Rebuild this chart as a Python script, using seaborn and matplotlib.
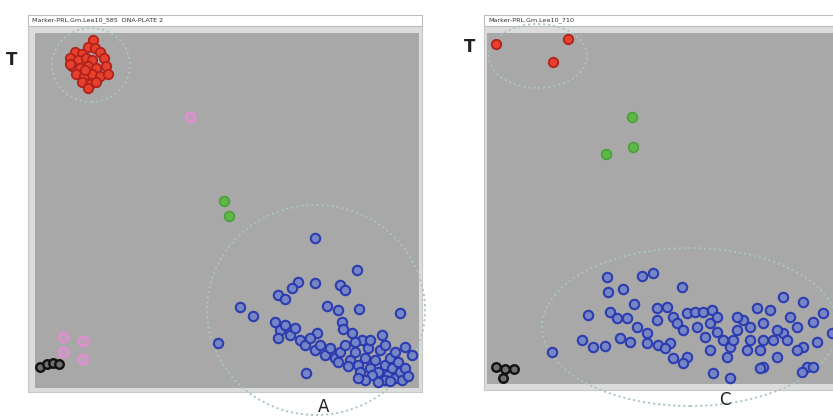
import matplotlib
matplotlib.use("Agg")
import matplotlib.pyplot as plt
from matplotlib.patches import Ellipse, Rectangle
import pandas as pd
import seaborn as sns

# ---------------- cluster data (allele signal units) ----------------
# Plate 2, marker 585
a_red_x = [0.58, 0.53, 0.60, 0.40, 0.47, 0.65, 0.35, 0.43, 0.51, 0.57, 0.69, 0.37, 0.45, 0.53,
           0.61, 0.71, 0.41, 0.49, 0.57, 0.65, 0.47, 0.55, 0.61, 0.53, 0.35, 0.73, 0.50]
a_red_y = [3.48, 3.41, 3.40, 3.36, 3.34, 3.36, 3.30, 3.28, 3.30, 3.28, 3.30, 3.22, 3.20, 3.22,
           3.20, 3.22, 3.14, 3.12, 3.14, 3.12, 3.06, 3.04, 3.06, 3.00, 3.24, 3.14, 3.18]
a_pink_x = [1.55, 0.28, 0.48, 0.28, 0.48]
a_pink_y = [2.71, 0.51, 0.47, 0.36, 0.29]
a_green_x = [1.89, 1.94]
a_green_y = [1.87, 1.72]
a_ntc_x = [0.05, 0.12, 0.18, 0.24]
a_ntc_y = [0.21, 0.24, 0.25, 0.24]
a_blue_x = [2.80, 3.22, 2.63, 2.57, 2.80, 3.05, 3.10, 2.43, 2.50, 2.05, 2.18, 2.92, 3.03, 3.24,
            3.65, 1.83, 2.82, 3.07, 3.08, 3.17, 3.47, 3.70, 3.77, 2.71,
            2.40, 2.45, 2.50, 2.43, 2.55, 2.60, 2.65, 2.70, 2.75, 2.80, 2.85, 2.90, 2.95, 3.00,
            3.05, 3.10, 3.15, 3.20, 3.23, 3.27, 3.30, 3.33, 3.35, 3.40, 3.43, 3.45, 3.50, 3.53,
            3.55, 3.57, 3.60, 3.63, 3.65, 3.67, 3.70, 3.73, 3.50, 3.37, 3.25, 3.13, 3.03, 3.60,
            3.50, 3.35, 3.20, 3.30, 3.43, 3.55, 3.23]
a_blue_y = [1.50, 1.18, 1.06, 1.00, 1.05, 1.03, 0.98, 0.93, 0.89, 0.81, 0.72, 0.82, 0.78, 0.79,
            0.75, 0.45, 0.55, 0.66, 0.59, 0.55, 0.53, 0.41, 0.33, 0.15,
            0.66, 0.58, 0.63, 0.50, 0.53, 0.60, 0.48, 0.43, 0.50, 0.38, 0.43, 0.33, 0.40, 0.30,
            0.36, 0.43, 0.28, 0.36, 0.23, 0.48, 0.30, 0.40, 0.20, 0.28, 0.16, 0.38, 0.23, 0.13,
            0.30, 0.20, 0.10, 0.26, 0.16, 0.08, 0.20, 0.12, 0.08, 0.13, 0.16, 0.22, 0.26, 0.36,
            0.43, 0.48, 0.46, 0.08, 0.06, 0.07, 0.10]

# Marker 710
c_red_x = [0.09, 0.81, 0.66]
c_red_y = [3.40, 3.45, 3.22]
c_green_x = [1.45, 1.46, 1.19]
c_green_y = [2.67, 2.37, 2.30]
c_ntc_x = [0.09, 0.18, 0.27, 0.16]
c_ntc_y = [0.17, 0.15, 0.15, 0.06]
c_blue_x = [1.20, 1.55, 1.66, 1.21, 1.36, 1.95, 1.47, 1.01, 1.23, 1.30, 1.40, 1.70, 1.80, 0.95,
            1.06, 1.18, 0.65, 1.33, 1.43, 1.50, 1.60, 1.70, 1.86, 1.90, 1.96, 2.00, 2.08, 2.16,
            2.25, 2.10, 2.18, 2.23, 2.30, 2.36, 1.83, 1.86, 2.00, 1.96, 2.26, 2.43, 2.40, 2.43,
            2.50, 2.56, 2.63, 2.70, 2.76, 2.83, 2.73, 2.76, 2.86, 2.90, 2.96, 2.96, 3.03, 3.10,
            3.16, 3.16, 3.20, 3.26, 3.26, 3.36, 3.30, 3.45, 2.50, 2.60, 2.46, 2.30, 2.90, 3.00,
            2.63, 2.23, 2.76, 3.10, 1.60, 1.71, 1.78, 2.73, 3.15]
c_blue_y = [1.07, 1.08, 1.11, 0.92, 0.95, 0.97, 0.80, 0.69, 0.72, 0.66, 0.66, 0.76, 0.77, 0.44,
            0.37, 0.38, 0.32, 0.46, 0.42, 0.57, 0.51, 0.64, 0.67, 0.61, 0.54, 0.71, 0.72, 0.72,
            0.74, 0.57, 0.47, 0.61, 0.52, 0.44, 0.41, 0.26, 0.27, 0.21, 0.11, 0.06, 0.27, 0.37,
            0.54, 0.64, 0.44, 0.76, 0.61, 0.74, 0.34, 0.17, 0.44, 0.27, 0.87, 0.51, 0.67, 0.57,
            0.82, 0.37, 0.17, 0.17, 0.62, 0.71, 0.42, 0.51, 0.67, 0.34, 0.44, 0.67, 0.54, 0.44,
            0.57, 0.34, 0.44, 0.34, 0.41, 0.39, 0.36, 0.16, 0.12]

titles = ["Marker-PRL.Gm.Lee10_585  DNA-PLATE 2", "Marker-PRL.Gm.Lee10_710"]
axis_labels = ["A", "C"]
allele_label = "T"

# ---------------- styles ----------------
STYLE = {
    "red":   dict(color="#e8402e", edgecolor="#b0221a", s=46, linewidth=1.3),
    "pink":  dict(color="#b9a2b5", edgecolor="#ea8ad8", s=46, linewidth=1.5),
    "green": dict(color="#5fb845", edgecolor="#44a033", s=50, linewidth=1.1),
    "ntc":   dict(color="#707070", edgecolor="#111111", s=38, linewidth=1.7),
    "blue":  dict(color="#7484c6", edgecolor="#2838b0", s=46, linewidth=1.5, alpha=0.95),
}
RING = "#a9c6c2"
PLOT_BG = "#a8a8a8"
FRAME_BG = "#dcdcdc"

W, H = 833, 417
fig = plt.figure(figsize=(W / 100, H / 100), dpi=100)
fig.patch.set_facecolor("white")


def fx(px):
    return px / W


def fy(py):
    return 1 - py / H


def box(x0, y0, x1, y1, **kw):
    fig.add_artist(Rectangle((fx(x0), fy(y1)), fx(x1) - fx(x0), (y1 - y0) / H,
                             transform=fig.transFigure, **kw))


def panel(px0, px1, py0, py1, xmax, ymax):
    ax = fig.add_axes([fx(px0), fy(py1), (px1 - px0) / W, (py1 - py0) / H])
    ax.set_facecolor(PLOT_BG)
    ax.set_xlim(0, xmax)
    ax.set_ylim(0, ymax)
    for s in ax.spines.values():
        s.set_visible(False)
    return ax


def draw(ax, xs, ys, key):
    df = pd.DataFrame({"x": xs, "y": ys})
    sns.scatterplot(data=df, x="x", y="y", ax=ax, zorder=3, legend=False, **STYLE[key])


def ring(ax, cx, cy, w, h):
    ax.add_patch(Ellipse((cx, cy), w, h, fill=False, ec=RING, lw=1.3,
                         ls=(0, (1.2, 1.6)), clip_on=False, zorder=2))


# frames and title bars
box(28, 26, 422, 392, fc=FRAME_BG, ec="#c8c8c8", lw=0.8, zorder=0)
box(28, 15, 422, 26, fc="white", ec="#bdbdbd", lw=0.8, zorder=0)
box(484, 26, 840, 390, fc=FRAME_BG, ec="#c8c8c8", lw=0.8, zorder=0)
box(484, 15, 840, 26, fc="white", ec="#bdbdbd", lw=0.8, zorder=0)

# left panel
axA = panel(35, 419, 33, 388, 3.84, 3.55)
ring(axA, 0.56, 3.23, 0.78, 0.74)
ring(axA, 2.81, 0.78, 2.18, 2.10)
draw(axA, a_red_x, a_red_y, "red")
draw(axA, a_pink_x, a_pink_y, "pink")
draw(axA, a_green_x, a_green_y, "green")
draw(axA, a_ntc_x, a_ntc_y, "ntc")
draw(axA, a_blue_x, a_blue_y, "blue")

# right panel
axC = panel(487, 871, 33, 384, 3.84, 3.51)
ring(axC, 0.51, 3.28, 0.98, 0.64)
ring(axC, 2.03, 0.57, 2.96, 1.58)
draw(axC, c_red_x, c_red_y, "red")
draw(axC, c_green_x, c_green_y, "green")
draw(axC, c_ntc_x, c_ntc_y, "ntc")
draw(axC, c_blue_x, c_blue_y, "blue")

for ax in (axA, axC):
    ax.set_xticks([])
    ax.set_yticks([])
    ax.set_xlabel("")
    ax.set_ylabel("")

# titles and axis letters
fig.text(fx(32), fy(20.5), titles[0], fontsize=4.6, color="#333333", va="center", ha="left")
fig.text(fx(488), fy(20.5), titles[1], fontsize=4.6, color="#333333", va="center", ha="left")
fig.text(fx(12), fy(60), allele_label, fontsize=12, color="#222222", ha="center", va="center",
         fontweight="bold")
fig.text(fx(470), fy(47), allele_label, fontsize=12, color="#222222", ha="center", va="center",
         fontweight="bold")
fig.text(fx(324), fy(407), axis_labels[0], fontsize=12, color="#222222", ha="center", va="center")
fig.text(fx(725), fy(400), axis_labels[1], fontsize=12, color="#222222", ha="center", va="center")

fig.savefig("out.png", dpi=100, facecolor="white")
